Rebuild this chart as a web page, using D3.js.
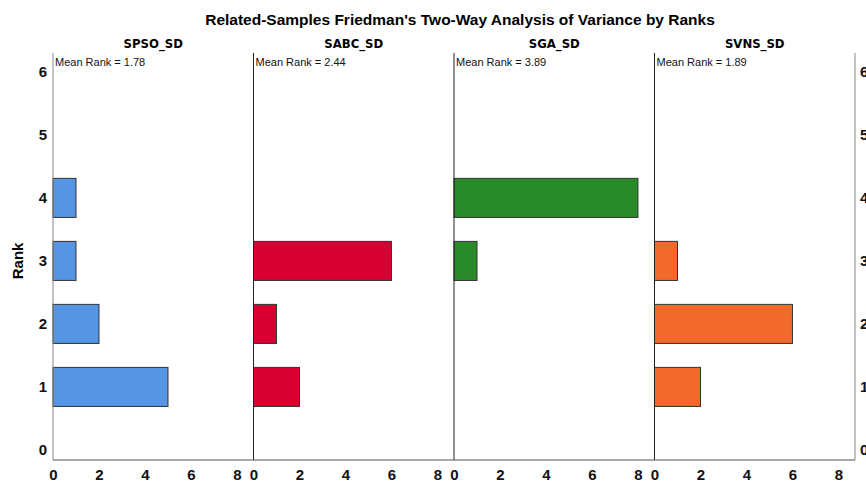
<!DOCTYPE html>
<html>
<head>
<meta charset="utf-8">
<script src="https://cdn.jsdelivr.net/npm/d3@7"></script>
<style>
  html, body { margin: 0; padding: 0; background: #fff; }
  svg { display: block; font-family: Arial, "Liberation Sans", sans-serif; }
</style>
</head>
<body>
<svg id="chart" width="866" height="484"></svg>
<script>
// Frequencies of each rank per method (9 runs each)
const panels = ["SPSO_SD", "SABC_SD", "SGA_SD", "SVNS_SD"];
const meanRanks = ["1.78", "2.44", "3.89", "1.89"];
const colors = ["#5595E4", "#D70030", "#288A28", "#F26A2B"];
const ranks = [1, 2, 3, 4];
const spsoFreq = [5, 2, 1, 1];
const sabcFreq = [2, 1, 6, 0];
const sgaFreq = [0, 0, 1, 8];
const svnsFreq = [2, 6, 1, 0];
const freqs = [spsoFreq, sabcFreq, sgaFreq, svnsFreq];
const rankTicks = [0, 1, 2, 3, 4, 5, 6];
const freqTicks = [0, 2, 4, 6, 8];

const svg = d3.select("#chart");
const plotLeft = 53, plotRight = 855, plotTop = 53, plotBottom = 460;
const pw = (plotRight - plotLeft) / panels.length;
const tickFont = "Arial, 'Liberation Sans', sans-serif";

const y = d3.scaleLinear().domain([-0.16, 6.3]).range([plotBottom, plotTop]);
const barH = (y(0) - y(0.62));

svg.append("text")
  .attr("x", 460).attr("y", 25)
  .attr("text-anchor", "middle")
  .attr("font-size", 15.5).attr("font-weight", "bold")
  .text("Related-Samples Friedman's Two-Way Analysis of Variance by Ranks");

svg.append("text")
  .attr("transform", `translate(23,${y(3)}) rotate(-90)`)
  .attr("text-anchor", "middle")
  .attr("font-size", 15).attr("font-weight", "bold")
  .text("Rank");

// Left and right rank axes
const yAxisL = d3.axisLeft(y).tickValues(rankTicks).tickFormat(d3.format("d"))
  .tickSize(0).tickPadding(6);
svg.append("g").attr("transform", `translate(${plotLeft},0)`).call(yAxisL)
  .call(g => g.select(".domain").remove())
  .selectAll("text").attr("font-size", 15).attr("font-weight", "bold")
  .attr("font-family", tickFont).attr("fill", "#111");

const yAxisR = d3.axisRight(y).tickValues(rankTicks).tickFormat(d3.format("d"))
  .tickSize(0).tickPadding(5);
svg.append("g").attr("transform", `translate(${plotRight},0)`).call(yAxisR)
  .call(g => g.select(".domain").remove())
  .selectAll("text").attr("font-size", 15).attr("font-weight", "bold")
  .attr("font-family", tickFont).attr("fill", "#111");

panels.forEach((name, i) => {
  const x0 = plotLeft + i * pw;
  const x = d3.scaleLinear().domain([0, 8.72]).range([x0, x0 + pw]);
  const g = svg.append("g");

  g.append("text")
    .attr("x", x0 + pw / 2).attr("y", 48)
    .attr("text-anchor", "middle")
    .attr("font-size", 13).attr("font-weight", "bold")
    .attr("font-family", "'DejaVu Sans Condensed', 'Liberation Sans Narrow', Arial, sans-serif")
    .text(name);

  g.append("text")
    .attr("x", x0 + 2).attr("y", 66)
    .attr("font-size", 11).attr("fill", "#111")
    .text(`Mean Rank = ${meanRanks[i]}`);

  const data = ranks.map((r, k) => ({ rank: r, n: freqs[i][k] })).filter(d => d.n > 0);
  g.selectAll("rect").data(data).join("rect")
    .attr("x", x(0))
    .attr("y", d => y(d.rank) - barH / 2)
    .attr("width", d => x(d.n) - x(0))
    .attr("height", barH)
    .attr("fill", colors[i])
    .attr("stroke", "#333").attr("stroke-width", 1);

  const xAxis = d3.axisBottom(x).tickValues(freqTicks).tickSize(0).tickPadding(9);
  g.append("g").attr("transform", `translate(0,${plotBottom})`).call(xAxis)
    .call(a => a.select(".domain").remove())
    .selectAll("text").attr("font-size", 15).attr("font-weight", "bold")
    .attr("font-family", tickFont).attr("fill", "#111");

  g.append("line")
    .attr("x1", x0).attr("x2", x0).attr("y1", plotTop).attr("y2", plotBottom)
    .attr("stroke", i === 0 ? "#888" : "#222").attr("stroke-width", 1);
});

svg.append("line")
  .attr("x1", plotRight).attr("x2", plotRight).attr("y1", plotTop).attr("y2", plotBottom)
  .attr("stroke", "#888");
svg.append("line")
  .attr("x1", plotLeft).attr("x2", plotRight).attr("y1", plotBottom).attr("y2", plotBottom)
  .attr("stroke", "#555");
</script>
</body>
</html>
